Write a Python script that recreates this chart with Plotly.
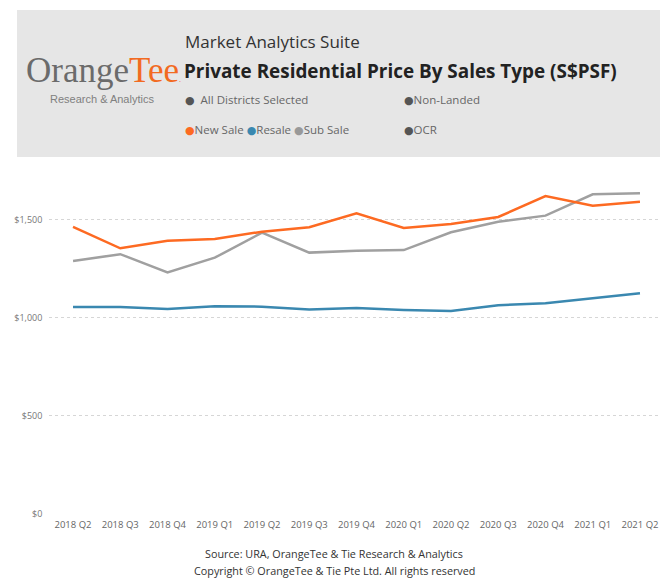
import plotly.graph_objs as go

# the page puts the figure 8px in from the top-left corner, so the figure is
# sized to the window minus that offset and positions below are page pixels
OFF = 8
W, H = 668 - OFF, 578 - OFF

quarters = ["2018 Q2", "2018 Q3", "2018 Q4", "2019 Q1", "2019 Q2", "2019 Q3", "2019 Q4",
            "2020 Q1", "2020 Q2", "2020 Q3", "2020 Q4", "2021 Q1", "2021 Q2"]
new_sale = [1465, 1355, 1394, 1403, 1440, 1463, 1534, 1459, 1479, 1515, 1622, 1573, 1593]
resale = [1055, 1055, 1045, 1059, 1057, 1042, 1050, 1040, 1035, 1064, 1074, 1101, 1125]
sub_sale = [1290, 1325, 1232, 1307, 1435, 1333, 1343, 1346, 1437, 1491, 1522, 1631, 1636]

y_ticks = [0, 500, 1000, 1500]
y_ticktext = ["$0", "$500", "$1,000", "$1,500"]

ORANGE = "#fd6a22"
BLUE = "#3a88b0"
GREY = "#a0a0a0"
FONT = "Open Sans"


def px_x(x):
    return (x - OFF) / W


def px_y(y):
    return 1 - (y - OFF) / H


def dot(color):
    return "<span style='color:%s;font-family:DejaVu Sans;font-size:11px'>●</span>" % color


fig = go.Figure()
fig.add_trace(go.Scatter(x=quarters, y=sub_sale, mode="lines", name="Sub Sale",
                         line=dict(color=GREY, width=2.5)))
fig.add_trace(go.Scatter(x=quarters, y=new_sale, mode="lines", name="New Sale",
                         line=dict(color=ORANGE, width=2.5)))
fig.add_trace(go.Scatter(x=quarters, y=resale, mode="lines", name="Resale",
                         line=dict(color=BLUE, width=2.5)))

# header box
fig.add_shape(type="rect", xref="paper", yref="paper",
              x0=px_x(17), x1=1, y0=px_y(157), y1=px_y(10),
              fillcolor="#e6e6e6", line=dict(width=0), layer="below")

notes = [
    (183, 42, "Market Analytics Suite", 17, "#333333"),
    (182, 71, "<b>Private Residential Price By Sales Type (S$PSF)</b>", 18.9, "#222222"),
    (183, 99, dot("#555555") + "  All Districts Selected", 11.5, "#666666"),
    (402, 99, dot("#555555") + "Non-Landed", 11.5, "#666666"),
    (183, 129, dot(ORANGE) + "New Sale " + dot(BLUE) + "Resale " + dot("#999999") + "Sub Sale",
     11.5, "#666666"),
    (402, 129, dot("#555555") + "OCR", 11.5, "#666666"),
]
for x, y, text, size, color in notes:
    fig.add_annotation(xref="paper", yref="paper", x=px_x(x), y=px_y(y), text=text,
                       showarrow=False, xanchor="left", yanchor="middle",
                       font=dict(family=FONT, size=size, color=color))

# logo
fig.add_annotation(xref="paper", yref="paper", x=px_x(24), y=px_y(70),
                   text="<span style='color:#6b6b6b'>Orange</span><span style='color:#f26a21'>Tee</span>"
                        "<span style='color:#f26a21;font-size:8px'>.</span>",
                   showarrow=False, xanchor="left", yanchor="middle",
                   font=dict(family="Liberation Serif", size=35))
fig.add_annotation(xref="paper", yref="paper", x=px_x(102), y=px_y(99),
                   text="Research & Analytics", showarrow=False, xanchor="center", yanchor="middle",
                   font=dict(family="Liberation Sans", size=11, color="#808080"))

# footer
fig.add_annotation(xref="paper", yref="paper", x=px_x(334), y=px_y(553),
                   text="Source: URA, OrangeTee & Tie Research & Analytics", showarrow=False,
                   xanchor="center", yanchor="middle", font=dict(family=FONT, size=10.8, color="#333333"))
fig.add_annotation(xref="paper", yref="paper", x=px_x(334), y=px_y(570),
                   text="Copyright © OrangeTee & Tie Pte Ltd. All rights reserved", showarrow=False,
                   xanchor="center", yanchor="middle", font=dict(family=FONT, size=10.8, color="#333333"))

fig.update_layout(
    width=W, height=H,
    margin=dict(l=0, r=0, t=0, b=0),
    paper_bgcolor="white", plot_bgcolor="white",
    showlegend=False,
    font=dict(family=FONT),
    xaxis=dict(domain=[px_x(49.4), px_x(663.6)], range=[-0.5, 12.5], type="category",
               showgrid=False, showline=False, zeroline=False, ticks="",
               tickfont=dict(size=9.5, color="#666666"), tickangle=0, ticklabelstandoff=4,
               automargin=False),
    yaxis=dict(domain=[px_y(513.5), px_y(180.8)], range=[0, 1700],
               tickvals=y_ticks, ticktext=y_ticktext, showline=False, zeroline=False,
               showgrid=True, gridcolor="#d6d6d6", griddash="dot", gridwidth=1,
               tickfont=dict(size=9, color="#777777"), ticks="", ticklabelstandoff=6,
               automargin=False),
)

fig.write_html("out.html")
